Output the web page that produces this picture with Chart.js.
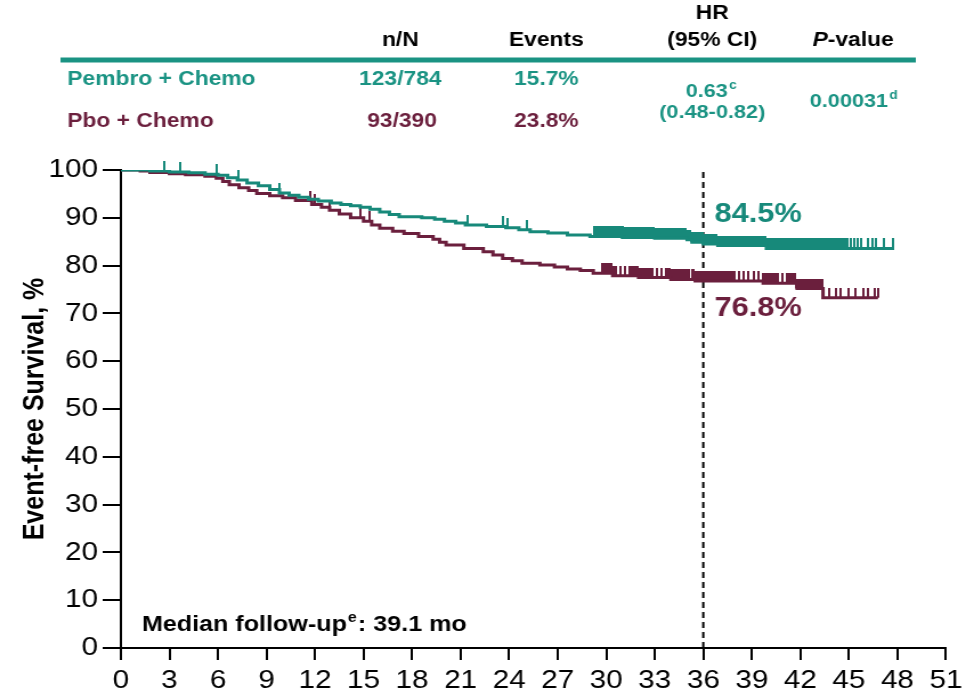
<!DOCTYPE html>
<html>
<head>
<meta charset="utf-8">
<title>Event-free Survival</title>
<script src="https://cdn.jsdelivr.net/npm/chart.js@4.4.1/dist/chart.umd.min.js"></script>
<style>
  html, body { margin: 0; padding: 0; background: #fff; overflow: hidden; }
</style>
</head>
<body>
<!-- drawn 854 wide and shown 974 wide: the reference is stretched sideways -->
<canvas id="efs" width="854" height="700" style="width:974px;height:700px"></canvas>
<script>
// Kaplan-Meier steps, time in months and EFS in %
const PEMBRO_TIME = [0,1.8,3.0,4.2,5.2,6.0,6.6,7.2,7.8,8.5,9.2,9.8,10.4,11.0,11.6,12.2,13.0,13.6,14.2,14.8,15.4,16.0,16.6,17.2,18.6,19.4,20.0,20.7,21.3,22.6,23.8,24.6,25.3,26.4,27.6,29.0,31.0,33.0,35.0,35.3,36.0,36.9,39.9,47.8];
const PEMBRO_EFS  = [100,99.8,99.6,99.4,99.1,98.9,98.4,97.9,97.3,96.7,95.9,95.2,94.7,94.3,93.9,93.5,93.1,92.8,92.5,92.2,91.8,91.2,90.7,90.2,90.0,89.7,89.3,88.9,88.5,88.2,87.9,87.5,87.1,86.8,86.4,86.1,85.9,85.7,85.4,84.9,84.5,84.2,83.6,83.6];

const PBO_TIME = [0,1.2,1.8,3.0,4.0,5.2,5.9,6.3,6.7,7.3,7.9,8.4,9.2,10.0,10.8,11.8,12.4,12.9,13.5,14.2,15.0,15.5,16.0,16.8,17.5,18.4,19.3,19.7,20.1,21.2,22.4,23.0,23.6,24.2,24.8,25.9,26.8,27.6,28.4,29.2,30.4,32.0,34.0,35.5,39.7,41.8,43.4,46.8];
const PBO_EFS  = [100,99.8,99.5,99.2,99.0,98.7,98.3,97.6,96.9,96.3,95.7,95.1,94.6,94.2,93.6,92.8,92.2,91.6,90.8,90.0,89.3,88.5,87.8,87.2,86.7,86.1,85.5,84.9,84.3,83.6,82.9,82.2,81.5,81.0,80.5,80.1,79.7,79.3,79.0,78.4,77.9,77.5,77.1,76.8,76.3,75.2,73.3,73.3];

// censored patients (months)
const PEMBRO_CENSOR = [2.7,3.7,5.95,7.25,9.8,21.4,23.6,23.9,25.1,
  29.3,29.45,29.6,29.75,29.9,30.05,30.2,30.35,30.5,30.65,30.8,30.95,31.1,31.25,31.4,31.55,31.7,31.85,32,32.15,32.3,32.45,32.6,32.75,32.9,33.05,33.2,33.35,33.5,33.65,33.8,33.95,
  34.1,34.25,34.4,34.55,34.7,34.85,35,35.15,35.3,35.45,35.6,35.75,35.9,36.05,36.2,36.35,36.5,36.65,36.8,36.95,37.1,37.25,37.4,37.55,37.7,37.85,38,38.15,38.3,38.45,38.6,38.75,38.9,
  39.05,39.2,39.35,39.5,39.65,39.8,39.95,40.1,40.25,40.4,40.55,40.7,40.85,41,41.15,41.3,41.45,41.6,41.75,41.9,42.05,42.2,42.35,42.5,42.65,42.8,42.95,43.1,43.25,43.4,43.55,43.7,43.85,
  44,44.15,44.3,44.45,44.6,44.75,44.9,45.1,45.32,45.54,45.76,46.2,46.45,46.7,47.2,47.7];
const PBO_CENSOR = [11.7,12.0,12.9,14.8,15.4,
  29.8,29.95,30.1,30.25,30.4,30.55,30.85,31.15,31.45,31.6,31.75,31.9,32.05,32.2,32.35,32.5,32.65,32.8,33.1,33.4,33.7,33.85,34,34.15,34.3,34.45,34.6,34.75,34.9,35.05,35.35,35.5,35.65,35.8,35.95,
  36.1,36.25,36.4,36.55,36.7,36.85,37,37.15,37.3,37.45,37.6,37.75,37.9,38.2,38.5,38.8,39.1,39.4,39.7,39.85,40,40.15,40.3,40.45,40.6,40.9,41.2,41.35,41.5,41.65,41.8,41.95,42.1,42.25,
  42.4,42.55,42.7,42.85,43,43.15,43.3,43.8,44.2,44.5,45.0,45.4,45.9,46.2,46.6,46.8];

const X_TICKS = [0,3,6,9,12,15,18,21,24,27,30,33,36,39,42,45,48,51];
const Y_TICKS = [0,10,20,30,40,50,60,70,80,90,100];
const LANDMARK = 36;

const TEAL = '#17897a';
const TEAL_TEXT = '#1a9383';
const MAROON = '#6b1f3d';
const FAMILY = '"Liberation Sans", Arial, Helvetica, sans-serif';

Chart.defaults.font.family = FAMILY;
Chart.defaults.color = '#000';

function kmPoints(times, efs) {
  return times.map((t, i) => ({ x: t, y: efs[i] }));
}
// value of the step curve at a given time
function efsAt(times, efs, t) {
  let v = efs[0];
  for (let i = 0; i < times.length; i++) if (times[i] <= t) v = efs[i];
  return v;
}
function censorPoints(list, times, efs) {
  return list.map(t => ({ x: t, y: efsAt(times, efs, t) }));
}
// tick mark that sits on top of the curve
function tickMark(color, w) {
  const c = document.createElement('canvas');
  c.width = w; c.height = 20;
  const g = c.getContext('2d');
  g.fillStyle = color;
  g.fillRect(0, 0, w, 10);
  return c;
}
// packed censor marks merge into a solid band, lone ones stay thin
function tickStyle(list, color) {
  const thin = tickMark(color, 2), wide = tickMark(color, 3);
  return ctx => {
    const t = list[ctx.dataIndex];
    const packed = list.some((u, j) => j !== ctx.dataIndex && Math.abs(u - t) < 0.16);
    return packed ? wide : thin;
  };
}

function put(ctx, s, x, y, font, color, align) {
  ctx.font = font;
  ctx.fillStyle = color;
  ctx.textAlign = align || 'left';
  ctx.textBaseline = 'middle';
  ctx.fillText(s, x, y);
}
// main text + superscript, centred on x
function putSup(ctx, main, sup, x, y, size, color) {
  const f1 = 'bold ' + size + 'px ' + FAMILY;
  const f2 = 'bold ' + Math.round(size * 0.62) + 'px ' + FAMILY;
  ctx.font = f1; const w1 = ctx.measureText(main).width;
  ctx.font = f2; const w2 = ctx.measureText(sup).width;
  const left = x - (w1 + w2) / 2;
  put(ctx, main, left, y, f1, color, 'left');
  put(ctx, sup, left + w1 + 1, y - size * 0.32, f2, color, 'left');
}

const textLayer = {
  id: 'textLayer',
  afterDraw(chart) {
    const ctx = chart.ctx;
    const xs = chart.scales.x, ys = chart.scales.y;
    const B20 = 'bold 20px ' + FAMILY;
    ctx.save();

    // table above the plot
    ctx.fillStyle = TEAL_TEXT;
    ctx.fillRect(53, 57.5, 750, 5);
    put(ctx, 'n/N', 351, 40, B20, '#000', 'center');
    put(ctx, 'Events', 479, 40, B20, '#000', 'center');
    put(ctx, 'HR', 624.5, 13, B20, '#000', 'center');
    put(ctx, '(95% CI)', 624.5, 40, B20, '#000', 'center');
    ctx.font = 'italic bold 20px ' + FAMILY; const wp = ctx.measureText('P').width;
    ctx.font = B20; const wv = ctx.measureText('-value').width;
    put(ctx, 'P', 748 - (wp + wv) / 2, 40, 'italic bold 20px ' + FAMILY, '#000', 'left');
    put(ctx, '-value', 748 - (wp + wv) / 2 + wp, 40, B20, '#000', 'left');

    put(ctx, 'Pembro + Chemo', 59, 79, B20, TEAL_TEXT, 'left');
    put(ctx, '123/784', 351, 79, B20, TEAL_TEXT, 'center');
    put(ctx, '15.7%', 479, 79, B20, TEAL_TEXT, 'center');
    put(ctx, 'Pbo + Chemo', 59, 121, B20, MAROON, 'left');
    put(ctx, '93/390', 352.5, 121, B20, MAROON, 'center');
    put(ctx, '23.8%', 479, 121, B20, MAROON, 'center');
    putSup(ctx, '0.63', 'c', 623, 92, 19, TEAL_TEXT);
    put(ctx, '(0.48-0.82)', 624.5, 113, 'bold 19px ' + FAMILY, TEAL_TEXT, 'center');
    putSup(ctx, '0.00031', 'd', 748, 102, 19, TEAL_TEXT);

    // labels at the 36-month landmark
    put(ctx, '84.5%', xs.getPixelForValue(36.7), ys.getPixelForValue(90.6), 'bold 27px ' + FAMILY, TEAL, 'left');
    put(ctx, '76.8%', xs.getPixelForValue(36.7), ys.getPixelForValue(71.1), 'bold 27px ' + FAMILY, MAROON, 'left');

    // follow-up note
    const fx = xs.getPixelForValue(1.3), fy = ys.getPixelForValue(4.8);
    const B22 = 'bold 22px ' + FAMILY;
    ctx.font = B22; const w1 = ctx.measureText('Median follow-up').width;
    put(ctx, 'Median follow-up', fx, fy, B22, '#000', 'left');
    put(ctx, 'e', fx + w1 + 1, fy - 7, 'bold 14px ' + FAMILY, '#000', 'left');
    ctx.font = 'bold 14px ' + FAMILY; const we = ctx.measureText('e').width;
    put(ctx, ': 39.1 mo', fx + w1 + we + 2, fy, B22, '#000', 'left');
    ctx.restore();
  }
};

new Chart(document.getElementById('efs'), {
  type: 'line',
  data: {
    datasets: [
      { label: 'Pembro + Chemo', data: kmPoints(PEMBRO_TIME, PEMBRO_EFS), borderColor: TEAL,
        borderWidth: 3, stepped: 'before', pointRadius: 0, fill: false },
      { label: 'Pbo + Chemo', data: kmPoints(PBO_TIME, PBO_EFS), borderColor: MAROON,
        borderWidth: 3, stepped: 'before', pointRadius: 0, fill: false },
      { label: 'Pembro censored', data: censorPoints(PEMBRO_CENSOR, PEMBRO_TIME, PEMBRO_EFS),
        showLine: false, pointStyle: tickStyle(PEMBRO_CENSOR, TEAL), pointRadius: 5, clip: false },
      { label: 'Pbo censored', data: censorPoints(PBO_CENSOR, PBO_TIME, PBO_EFS),
        showLine: false, pointStyle: tickStyle(PBO_CENSOR, MAROON), pointRadius: 5, clip: false },
      { label: '36 mo', data: [{ x: LANDMARK, y: 0 }, { x: LANDMARK, y: 100 }], borderColor: '#000',
        borderWidth: 2, borderDash: [6, 4], pointRadius: 0, fill: false }
    ]
  },
  options: {
    responsive: false,
    animation: false,
    devicePixelRatio: 1,
    layout: { padding: { top: 170, right: 24.6, bottom: 0, left: 0 } },
    plugins: { legend: { display: false }, tooltip: { enabled: false } },
    scales: {
      x: {
        type: 'linear', min: 0, max: 51,
        afterBuildTicks: s => { s.ticks = X_TICKS.map(v => ({ value: v })); },
        afterFit: s => { s.height = 52; },
        ticks: { font: { size: 26 }, color: '#000', padding: 5, maxRotation: 0, autoSkip: false },
        grid: { drawOnChartArea: false, drawTicks: true, tickLength: 12, color: '#000', lineWidth: 2 },
        border: { color: '#000', width: 2 }
      },
      y: {
        min: 0, max: 100,
        afterBuildTicks: s => { s.ticks = Y_TICKS.map(v => ({ value: v })); },
        afterFit: s => { s.width = 106; },
        ticks: { font: { size: 26 }, color: '#000', padding: 4 },
        grid: { drawOnChartArea: false, drawTicks: true, tickLength: 16, color: '#000', lineWidth: 2 },
        border: { color: '#000', width: 2 },
        title: { display: true, text: 'Event-free Survival, %', color: '#000',
                 font: { size: 25, weight: 'bold' }, padding: { top: 16, bottom: 0 } }
      }
    }
  },
  plugins: [textLayer]
});
</script>
</body>
</html>
